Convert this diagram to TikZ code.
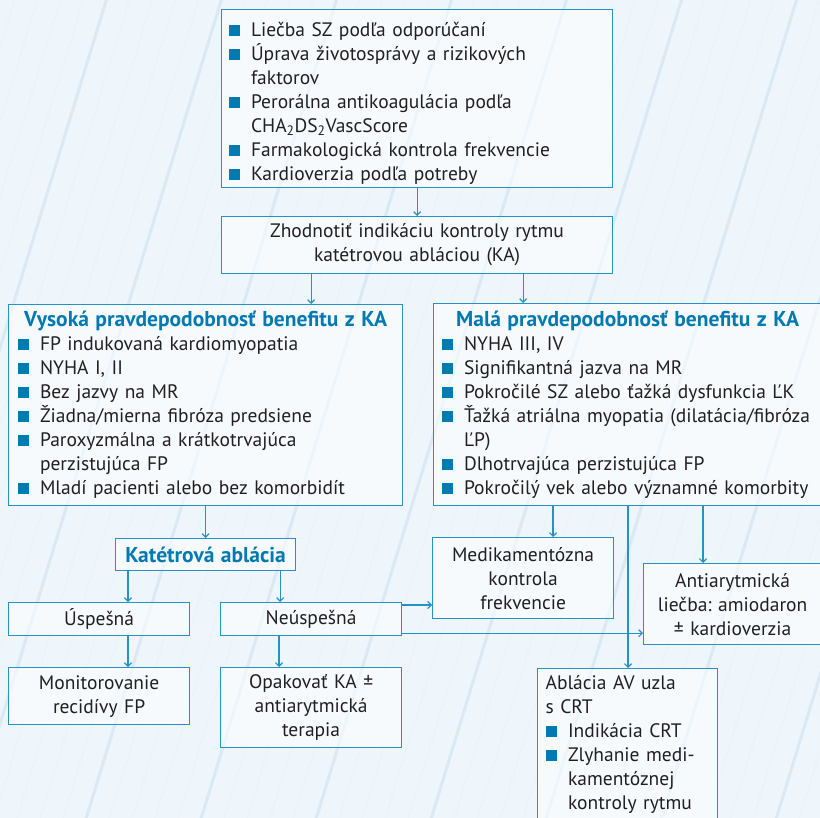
\documentclass[tikz,border=0pt]{standalone}
\usepackage{fontspec}
\setmainfont{PT Sans}
\usetikzlibrary{arrows.meta}
\definecolor{lineBlue}{RGB}{38,146,196}
\definecolor{bulBlue}{RGB}{0,122,176}
\definecolor{bgBlue}{RGB}{238,245,251}
\definecolor{gridBlue}{RGB}{219,233,244}
\definecolor{txtGrey}{RGB}{35,31,32}
\newcommand{\sqb}{\textcolor{bulBlue}{\rule[0.04em]{0.56em}{0.56em}}}
\newcommand{\bitem}[1]{\par\noindent\hangindent=1.15em\hangafter=1\makebox[1.15em][l]{\sqb}#1\par}
\newcommand{\btitle}[1]{{\centering\fontsize{21.5}{24}\bfseries\selectfont\color{bulBlue}#1\par}}

\begin{document}
\begin{tikzpicture}[x=1pt, y=-1pt,
    box/.style={draw=lineBlue, line width=1.2pt, fill=white, fill opacity=0.55,
      text opacity=1, text=txtGrey, anchor=north west, inner ysep=3pt,
      font=\fontsize{19.5}{24}\selectfont\frenchspacing},
    arr/.style={draw=lineBlue, line width=1.2pt, -{Straight Barb[length=3.5pt,width=7pt]}}]
  \useasboundingbox (0,0) rectangle (820,818);
  % background paper
  \fill[bgBlue] (0,0) rectangle (820,818);
  \begin{scope}
    \clip (0,0) rectangle (820,818);
    \draw[gridBlue!60, line width=0.6pt, rotate around={-17:(410,409)}] (-500,-500) grid[step=22] (1400,1400);
    \draw[gridBlue, line width=3pt, rotate around={-17:(410,409)}] (-500,-500) grid[step=110] (1400,1400);
  \end{scope}

  % top boxes
  \node[box, minimum width=391, minimum height=176, inner xsep=7pt, text width=377, align=left] (plan) at (221,9) {%
    \bitem{Liečba SZ podľa odporúčaní}
    \bitem{Úprava životosprávy a rizikových\newline faktorov}
    \bitem{Perorálna antikoagulácia podľa\newline CHA\textsubscript{2}DS\textsubscript{2}VascScore}
    \bitem{Farmakologická kontrola frekvencie}
    \bitem{Kardioverzia podľa potreby}};
  \node[box, minimum width=391, minimum height=57, text width=377, align=center] (eval) at (221,216)
    {Zhodnotiť indikáciu kontroly rytmu\\katétrovou abláciou (KA)};

  % benefit boxes
  \node[box, minimum width=394, minimum height=201, inner xsep=9pt, text width=376, align=left] (high) at (8,304) {%
    \btitle{Vysoká pravdepodobnosť benefitu z KA}
    \bitem{FP indukovaná kardiomyopatia}
    \bitem{NYHA I, II}
    \bitem{Bez jazvy na MR}
    \bitem{Žiadna/mierna fibróza predsiene}
    \bitem{Paroxyzmálna a krátkotrvajúca\newline perzistujúca FP}
    \bitem{Mladí pacienti alebo bez komorbidít}};
  \node[box, minimum width=388, minimum height=202, inner xsep=8pt, text width=372, align=left] (low) at (433,303) {%
    \btitle{Malá pravdepodobnosť benefitu z KA}
    \bitem{NYHA III, IV}
    \bitem{Signifikantná jazva na MR}
    \bitem{Pokročilé SZ alebo ťažká dysfunkcia ĽK}
    \bitem{Ťažká atriálna myopatia (dilatácia/fibróza\newline ĽP)}
    \bitem{Dlhotrvajúca perzistujúca FP}
    \bitem{Pokročilý vek alebo významné komorbity}};

  % left branch
  \node[box, minimum width=180, minimum height=32, text width=166, align=center] (ka) at (115,538)
    {\fontsize{21.5}{24}\bfseries\selectfont\color{bulBlue}Katétrová ablácia};
  \node[box, minimum width=181, minimum height=33, text width=167, align=center] (ok) at (8,602) {Úspešná};
  \node[box, minimum width=181, minimum height=33, text width=167, align=center] (fail) at (220,602) {Neúspešná};
  \node[box, minimum width=181, minimum height=57, text width=167, align=center] (monit) at (8,667)
    {Monitorovanie\\recidívy FP};
  \node[box, minimum width=181, minimum height=80, text width=167, align=center] (again) at (220,667)
    {Opakovať KA ±\\antiarytmická\\terapia};

  % right branch
  \node[box, minimum width=181, minimum height=81, text width=167, align=center] (rate) at (432,537)
    {Medikamentózna\\kontrola\\frekvencie};
  \node[box, minimum width=178, minimum height=81, text width=164, align=center] (aad) at (643,563)
    {Antiarytmická\\liečba: amiodaron\\± kardioverzia};
  \node[box, minimum width=180, minimum height=152, inner xsep=8pt, text width=164, align=left] (avn) at (537,668) {%
    Ablácia AV uzla\newline s CRT
    \bitem{Indikácia CRT}
    \bitem{Zlyhanie medi-\newline kamentóznej\newline kontroly rytmu}};

  % connectors
  \draw[arr] (plan) -- (eval);
  \draw[arr] ([xshift=-106pt]eval.south) -- ([xshift=-106pt]eval.south |- high.north);
  \draw[arr] ([xshift=106pt]eval.south) -- ([xshift=106pt]eval.south |- low.north);
  \draw[arr] (high.south) -- (ka.north);
  \draw[arr] ([xshift=13pt]ka.south west) -- ([xshift=13pt]ka.south west |- ok.north);
  \draw[arr] ([xshift=-16pt]ka.south east) -- ([xshift=-16pt]ka.south east |- fail.north);
  \draw[arr] ([xshift=120pt]ok.south west) -- ([xshift=120pt]ok.south west |- monit.north);
  \draw[arr] ([xshift=59pt]fail.south west) -- ([xshift=59pt]fail.south west |- again.north);
  \draw[arr] ([xshift=120pt]low.south west) -- ([xshift=120pt]low.south west |- rate.north);
  \draw[arr] ([xshift=195pt]low.south west) -- ([xshift=195pt]low.south west |- avn.north);
  \draw[arr] ([xshift=270pt]low.south west) -- ([xshift=270pt]low.south west |- aad.north);
  \draw[arr] ([yshift=-3pt]fail.north east) -- ([yshift=-3pt]fail.north east -| rate.west);
  \draw[arr] ([yshift=3pt]fail.south east) -- ([yshift=3pt]fail.south east -| aad.west);
\end{tikzpicture}
\end{document}
